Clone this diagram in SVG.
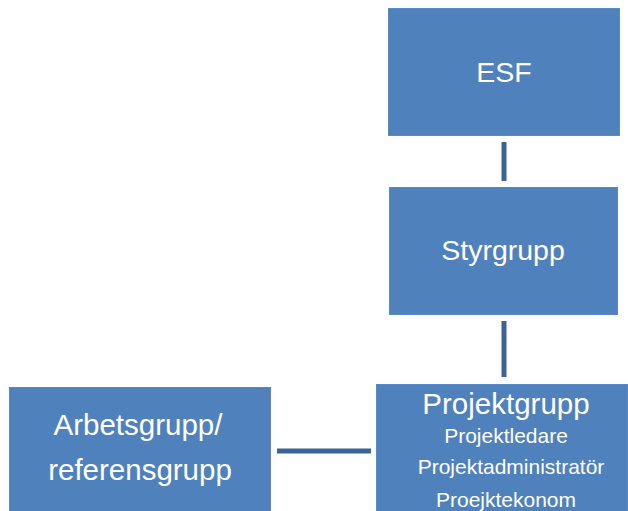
<svg xmlns="http://www.w3.org/2000/svg" width="628" height="511" viewBox="0 0 628 511">
<style>
.box{fill:#4F81BD;stroke:#5A8AC4;stroke-width:1}
.t{fill:#FFFFFF;font-family:"Liberation Sans",Arial,sans-serif;text-anchor:middle}
.big{font-size:28.5px}
.small{font-size:21px}
.c{stroke:#3B6494;stroke-width:5;fill:none}
</style>
<rect width="628" height="511" fill="#FFFFFF"/>
<g id="connectors">
<line class="c" x1="504" y1="142" x2="504" y2="181"/>
<line class="c" x1="504" y1="321" x2="504" y2="377"/>
<line class="c" x1="277" y1="451" x2="371" y2="451"/>
</g>
<g id="esf">
<rect class="box" x="388.5" y="8.5" width="231" height="127"/>
<text class="t big" x="504" y="82">ESF</text>
</g>
<g id="styrgrupp">
<rect class="box" x="389.5" y="187.5" width="228" height="127"/>
<text class="t big" x="503" y="260">Styrgrupp</text>
</g>
<g id="projektgrupp">
<rect class="box" x="376.5" y="384.5" width="251" height="130"/>
<text class="t" x="506" y="414" font-size="29.5">Projektgrupp</text>
<text class="t small" x="506" y="443">Projektledare</text>
<text class="t small" x="511" y="474">Projektadministratör</text>
<text class="t small" x="506" y="507">Proejktekonom</text>
</g>
<g id="arbetsgrupp">
<rect class="box" x="9.5" y="387.5" width="261" height="127"/>
<text class="t" x="138" y="435" font-size="29.5">Arbetsgrupp/</text>
<text class="t" x="140" y="480" font-size="29.5">referensgrupp</text>
</g>
</svg>
